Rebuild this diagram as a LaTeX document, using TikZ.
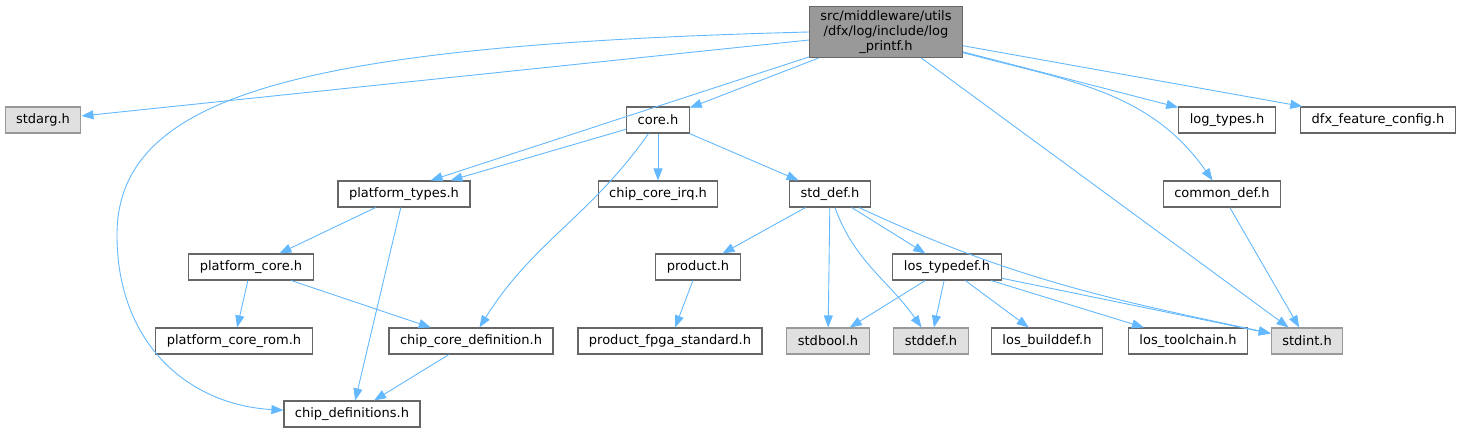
\documentclass[tikz,border=0pt]{standalone}
\usepackage{fontspec}
\setmainfont{DejaVu Sans}
\usetikzlibrary{positioning,shapes,arrows.meta}
\usepackage{xcolor}
\definecolor{edgeblue}{HTML}{63B8FF}
\definecolor{boxline}{HTML}{666666}
\definecolor{sysline}{HTML}{999999}
\definecolor{sysfill}{HTML}{E0E0E0}
\definecolor{rootfill}{HTML}{999999}

\begin{document}
\begin{tikzpicture}[x=1pt, y=-1pt,
    font=\fontsize{13}{15}\selectfont,
    file/.style={draw=boxline, line width=1.1pt, fill=white, rectangle, inner xsep=11pt, inner ysep=0pt, minimum height=26pt},
    sysfile/.style={file, draw=sysline, fill=sysfill},
    rootfile/.style={file, fill=rootfill, align=center, inner ysep=4pt},
    dep/.style={edgeblue, line width=0.9pt, -{Triangle[length=12pt, width=9pt]}}]
    \useasboundingbox (0,0) rectangle (1462,432);

    % top row
    \node (root) [rootfile] at (886,32) {src/middleware/utils\\/dfx/log/include/log\\\_printf.h};

    \node (stdarg) [sysfile] at (43,120) {stdarg.h};
    \node (core) [file] at (658,120) {core.h};
    \node (logtypes) [file] at (1227,120) {log\_types.h};
    \node (dfxcfg) [file] at (1378,120) {dfx\_feature\_config.h};

    \node (ptypes) [file] at (404,194) {platform\_types.h};
    \node (coreirq) [file] at (658,194) {chip\_core\_irq.h};
    \node (stddefh) [file] at (830,194) {std\_def.h};
    \node (commondef) [file] at (1222,194) {common\_def.h};

    \node (pcore) [file] at (251,267) {platform\_core.h};
    \node (product) [file] at (698,267) {product.h};
    \node (lostypedef) [file] at (947,267) {los\_typedef.h};

    \node (pcorerom) [file] at (234,341) {platform\_core\_rom.h};
    \node (ccdef) [file] at (471,341) {chip\_core\_definition.h};
    \node (pfpga) [file] at (670,341) {product\_fpga\_standard.h};
    \node (stdbool) [sysfile] at (828,341) {stdbool.h};
    \node (stddef) [sysfile] at (931,341) {stddef.h};
    \node (losbuild) [file] at (1047,341) {los\_builddef.h};
    \node (lostool) [file] at (1188,341) {los\_toolchain.h};
    \node (stdint) [sysfile] at (1307,341) {stdint.h};

    \node (cdefs) [file] at (352,414) {chip\_definitions.h};

    \coordinate (leftbend) at (117,235);

    % edges from the root file
    \draw[dep] (root) -- (stdarg);
    \draw[dep] (root.west) .. controls (300,45) and (117,95) .. (leftbend) .. controls (117,345) and (190,405) .. (cdefs);
    \draw[dep] (root) -- (ptypes.27);
    \draw[dep] (root) -- (core);
    \draw[dep] (root) -- (stdint);
    \draw[dep] (root) -- (logtypes);
    \draw[dep] (root) -- (dfxcfg);
    \draw[dep] (root) to[out=-15, in=125] (commondef);

    % core.h
    \draw[dep] (core) -- (ptypes);
    \draw[dep] (core) -- (coreirq);
    \draw[dep] (core) -- (stddefh);
    \draw[dep] (core) to[out=-125, in=58] (ccdef);

    % platform side
    \draw[dep] (ptypes) -- (pcore);
    \draw[dep] (ptypes) -- (cdefs);
    \draw[dep] (pcore) -- (pcorerom);
    \draw[dep] (pcore) -- (ccdef);
    \draw[dep] (ccdef) -- (cdefs);

    % std_def.h
    \draw[dep] (stddefh) -- (product);
    \draw[dep] (stddefh) -- (stdbool);
    \draw[dep] (stddefh) to[out=-70, in=125] (stddef);
    \draw[dep] (stddefh) -- (lostypedef);
    \draw[dep] (stddefh) to[out=-25, in=168] (stdint);
    \draw[dep] (product) -- (pfpga);

    % los_typedef.h
    \draw[dep] (lostypedef) -- (stdbool);
    \draw[dep] (lostypedef) -- (stddef);
    \draw[dep] (lostypedef) -- (losbuild);
    \draw[dep] (lostypedef) -- (lostool);
    \draw[dep] (lostypedef) -- (stdint);

    \draw[dep] (commondef) -- (stdint);
\end{tikzpicture}
\end{document}
